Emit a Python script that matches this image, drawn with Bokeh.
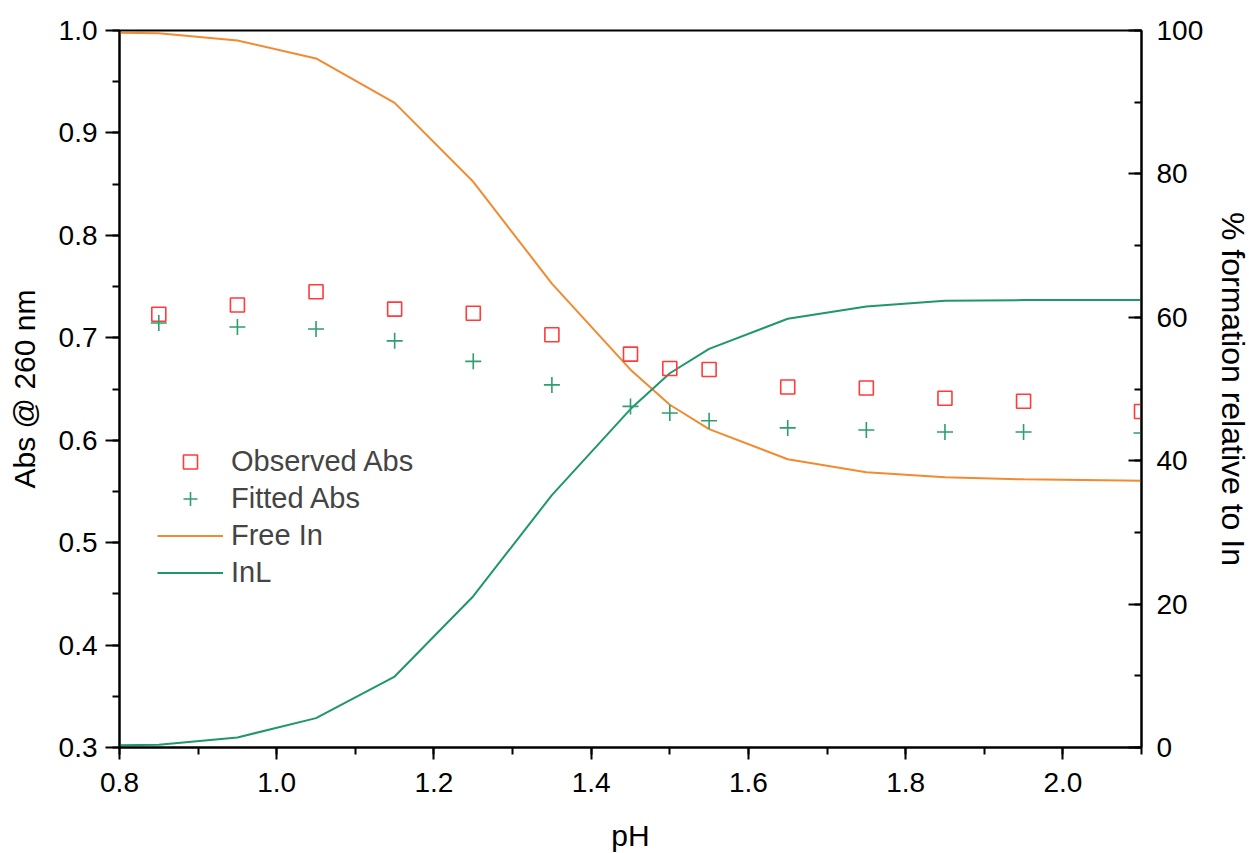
from bokeh.plotting import figure
from bokeh.models import (Range1d, LinearAxis, SingleIntervalTicker, Legend,
                          LegendItem, NumeralTickFormatter)
from bokeh.embed import file_html
from bokeh.resources import INLINE

ph = [0.85, 0.95, 1.05, 1.15, 1.25, 1.35, 1.45, 1.5, 1.55, 1.65, 1.75, 1.85, 1.95, 2.1]
observed_abs = [0.723, 0.732, 0.745, 0.728, 0.724, 0.703, 0.684, 0.670, 0.669, 0.652, 0.651, 0.641, 0.638, 0.628]
fitted_abs = [0.7145, 0.7105, 0.7086, 0.697, 0.677, 0.654, 0.633, 0.6265, 0.619, 0.612, 0.610, 0.608, 0.608, 0.607]

ph_line = [0.8, 0.85, 0.95, 1.05, 1.15, 1.25, 1.35, 1.45, 1.5, 1.55, 1.65, 1.75, 1.85, 1.95, 2.1]
free_in = [99.7, 99.6, 98.6, 96.1, 89.9, 78.9, 64.7, 52.7, 47.8, 44.4, 40.2, 38.4, 37.7, 37.4, 37.2]
inl = [0.3, 0.4, 1.4, 4.1, 9.9, 21.1, 35.2, 47.2, 52.2, 55.6, 59.8, 61.5, 62.3, 62.4, 62.4]

left_label = "Abs @ 260 nm"
right_label = "% formation relative to In"
bottom_label = "pH"

FONT = "Liberation Sans"
RED = "#FF3B3B"
GREEN_M = "#2E9E6E"
ORANGE = "#F28A30"
GREEN_L = "#1F976A"

p = figure(frame_width=1022, frame_height=717, output_backend="svg", toolbar_location=None,
           x_range=Range1d(0.8, 2.1), y_range=Range1d(0.3, 1.0),
           min_border_left=119, min_border_right=108, min_border_top=30, min_border_bottom=106,
           x_axis_location=None, y_axis_location=None)
p.grid.visible = False
p.background_fill_color = "white"
p.border_fill_color = "white"
p.outline_line_color = "black"
p.outline_line_width = 2
p.extra_y_ranges = {"pct": Range1d(0, 100)}

def style(ax, label_size="30px"):
    ax.axis_line_width = 2
    ax.axis_line_color = "black"
    ax.major_tick_line_width = 2
    ax.minor_tick_line_width = 2
    ax.major_label_text_font = FONT
    ax.major_label_text_font_size = "28px"
    ax.major_label_text_color = "black"
    ax.axis_label_text_font = FONT
    ax.axis_label_text_font_size = label_size
    ax.axis_label_text_font_style = "normal"
    ax.axis_label_text_color = "black"

xaxis = LinearAxis(ticker=SingleIntervalTicker(interval=0.2, num_minor_ticks=2),
                   formatter=NumeralTickFormatter(format="0.0"), axis_label=bottom_label)
style(xaxis)
xaxis.major_tick_out = 12
xaxis.major_tick_in = 0
xaxis.minor_tick_out = 7
xaxis.minor_tick_in = 0
xaxis.major_label_standoff = 13
xaxis.axis_label_standoff = 24
p.add_layout(xaxis, "below")

yaxis = LinearAxis(ticker=SingleIntervalTicker(interval=0.1, num_minor_ticks=2),
                   formatter=NumeralTickFormatter(format="0.0"), axis_label=left_label)
style(yaxis)
yaxis.major_tick_out = 14
yaxis.major_tick_in = 0
yaxis.minor_tick_out = 7
yaxis.minor_tick_in = 0
yaxis.major_label_standoff = 8
yaxis.axis_label_standoff = 15
p.add_layout(yaxis, "left")

raxis = LinearAxis(y_range_name="pct", ticker=SingleIntervalTicker(interval=20, num_minor_ticks=2),
                   axis_label=right_label)
style(raxis, "32px")
raxis.major_tick_out = 0
raxis.major_tick_in = 13
raxis.minor_tick_out = 0
raxis.minor_tick_in = 7
raxis.major_label_standoff = 15
raxis.axis_label_standoff = 9
p.add_layout(raxis, "right")

r_free = p.line(ph_line, free_in, y_range_name="pct", line_color=ORANGE, line_width=2)
r_inl = p.line(ph_line, inl, y_range_name="pct", line_color=GREEN_L, line_width=2)
r_obs = p.scatter(ph, observed_abs, marker="square", size=14, fill_color=None,
                  line_color=RED, line_width=1.6)
r_fit = p.scatter(ph, fitted_abs, marker="cross", size=16, line_color=GREEN_M, line_width=1.6)

legend = Legend(items=[
    LegendItem(label="Observed Abs", renderers=[r_obs]),
    LegendItem(label="Fitted Abs", renderers=[r_fit]),
    LegendItem(label="Free In", renderers=[r_free]),
    LegendItem(label="InL", renderers=[r_inl]),
], location=(38, 157), border_line_color=None, background_fill_alpha=0,
    padding=0, margin=0, spacing=2, glyph_width=66, glyph_height=35,
    label_text_font=FONT, label_text_font_size="29px", label_standoff=8, label_height=35)
p.add_layout(legend, "center")

open("out.html", "w").write(file_html(p, INLINE))
